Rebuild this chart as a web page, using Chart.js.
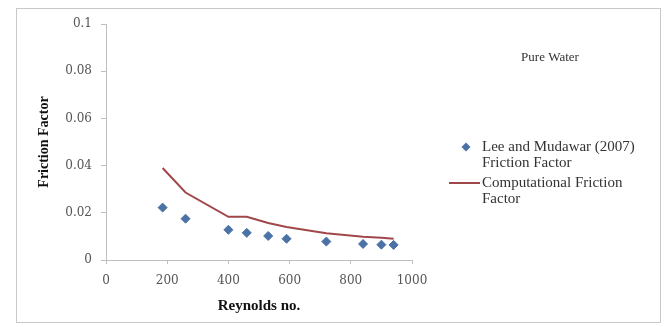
<!DOCTYPE html>
<html><head><meta charset="utf-8">
<script src="https://cdn.jsdelivr.net/npm/chart.js@4"></script>
<style>html,body{margin:0;padding:0;background:#fff;}#wrap{width:665px;height:327px;position:relative;}</style>
</head><body><div id="wrap"><canvas id="c" width="665" height="327"></canvas></div>
<script>
const reynolds = [185, 260, 400, 460, 530, 590, 720, 840, 900, 940];
const leeMudawar = [0.0222, 0.0175, 0.0128, 0.0115, 0.0102, 0.0090, 0.0078, 0.0068, 0.0065, 0.0064];
const computational = [0.0390, 0.0286, 0.0183, 0.0183, 0.0157, 0.0140, 0.0113, 0.0099, 0.0094, 0.0090];
const seriesNames = [['Lee and Mudawar (2007)', 'Friction Factor'], ['Computational Friction', 'Factor']];
const chartLabel = 'Pure Water';
const xTitle = 'Reynolds no.';
const yTitle = 'Friction Factor';

const blue = '#4a72a6';
const red = '#a0474a';
const axisGray = '#bfbfbf';

const framePlugin = {
  id: 'frame',
  beforeDraw(chart) {
    const ctx = chart.ctx;
    ctx.save();
    ctx.fillStyle = '#fff';
    ctx.fillRect(0, 0, chart.width, chart.height);
    ctx.strokeStyle = '#c8c8c8';
    ctx.lineWidth = 1;
    ctx.strokeRect(16.5, 8.5, 644, 314);
    ctx.restore();
  },
  afterDraw(chart) {
    const ctx = chart.ctx;
    ctx.save();
    ctx.fillStyle = '#333';
    ctx.font = '13px "Liberation Serif"';
    ctx.textBaseline = 'middle';
    ctx.textAlign = 'center';
    ctx.fillText(chartLabel, 550, 58);
    ctx.textAlign = 'left';
    ctx.font = '15px "Liberation Serif"';
    let y = 147;
    ctx.fillStyle = blue;
    ctx.beginPath();
    ctx.moveTo(466, y - 4.5); ctx.lineTo(470.5, y); ctx.lineTo(466, y + 4.5); ctx.lineTo(461.5, y); ctx.closePath();
    ctx.fill();
    ctx.fillStyle = '#333';
    seriesNames[0].forEach((t, i) => ctx.fillText(t, 482, y + i * 16));
    y = 183;
    ctx.strokeStyle = red; ctx.lineWidth = 2;
    ctx.beginPath(); ctx.moveTo(449, y); ctx.lineTo(480, y); ctx.stroke();
    seriesNames[1].forEach((t, i) => ctx.fillText(t, 482, y + i * 16));
    ctx.restore();
  }
};

new Chart(document.getElementById('c'), {
  type: 'scatter',
  data: {
    datasets: [
      {
        label: seriesNames[0].join(' '),
        data: reynolds.map((x, i) => ({x, y: leeMudawar[i]})),
        pointStyle: 'rectRot',
        pointRadius: 4.5,
        backgroundColor: blue,
        borderColor: blue,
        borderWidth: 1,
        showLine: false,
        order: 1
      },
      {
        label: seriesNames[1].join(' '),
        data: reynolds.map((x, i) => ({x, y: computational[i]})),
        showLine: true,
        pointRadius: 0,
        borderColor: red,
        borderWidth: 2,
        tension: 0,
        order: 2
      }
    ]
  },
  options: {
    responsive: false,
    devicePixelRatio: 1,
    animation: false,
    layout: {padding: {left: 36, top: 24, right: 253, bottom: 12}},
    plugins: {legend: {display: false}, tooltip: {enabled: false}},
    scales: {
      x: {
        type: 'linear', min: 0, max: 1000,
        ticks: {stepSize: 200, color: '#555', font: {family: 'DejaVu Serif', size: 12}, padding: 10,
                callback: v => String(v)},
        grid: {drawOnChartArea: false, tickLength: 4, tickColor: axisGray},
        border: {color: axisGray, width: 1},
        title: {display: true, text: xTitle, color: '#111', font: {family: 'Liberation Serif', size: 15, weight: 'bold'}, padding: {top: 0, bottom: 0}},
        afterFit(s) { s.height = 55; }
      },
      y: {
        type: 'linear', min: 0, max: 0.1,
        ticks: {stepSize: 0.02, color: '#555', font: {family: 'DejaVu Serif', size: 12}, padding: 9,
                callback: v => String(parseFloat(v.toFixed(2)))},
        grid: {drawOnChartArea: false, tickLength: 5, tickColor: axisGray},
        border: {color: axisGray, width: 1},
        title: {display: true, text: yTitle, color: '#111', font: {family: 'Liberation Serif', size: 14, weight: 'bold'}, padding: {top: 0, bottom: 0}},
        afterFit(s) { s.width = 70; }
      }
    }
  },
  plugins: [framePlugin]
});
</script>
</body></html>
